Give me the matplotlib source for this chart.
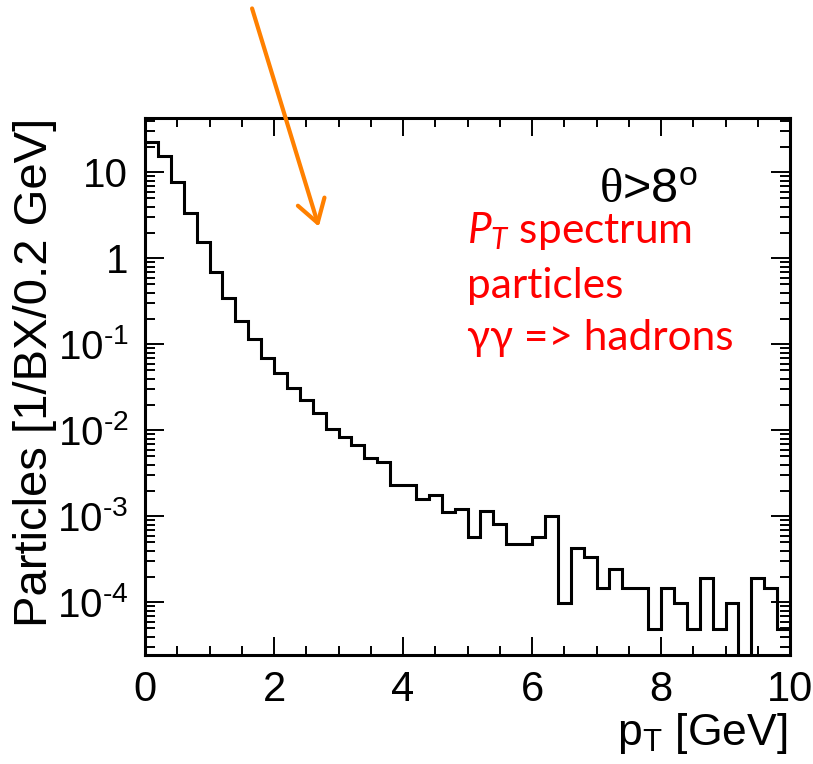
import numpy as np
import matplotlib
matplotlib.use("Agg")
import matplotlib.pyplot as plt
from matplotlib.ticker import FixedLocator, LogLocator, NullFormatter, FuncFormatter, MultipleLocator

plt.rcParams["font.family"] = ["Liberation Sans", "DejaVu Sans"]
plt.rcParams["mathtext.fontset"] = "custom"
plt.rcParams["mathtext.sf"] = "Liberation Sans"
plt.rcParams["mathtext.rm"] = "Liberation Serif"
plt.rcParams["mathtext.it"] = "Lato:italic"

# pT spectrum of particles from gamma-gamma -> hadrons, theta > 8 deg
bin_width = 0.2  # GeV
pt_min, pt_max = 0.0, 10.0
particles_per_bx = [
    22.8, 15.6, 7.8, 3.36, 1.54, 0.69, 0.344, 0.189, 0.115, 0.069,
    0.046, 0.0315, 0.0224, 0.0161, 0.0105, 0.00834, 0.00678, 0.00475, 0.00434, 0.00231,
    0.00231, 0.00158, 0.00177, 0.00113, 0.00121, 0.000582, 0.00116, 0.000818, 0.000479, 0.000479,
    0.000582, 0.00101, 9.8e-5, 0.000427, 0.000341, 0.000149, 0.000243, 0.000149, 0.000149, 4.9e-5,
    0.000149, 9.8e-5, 4.9e-5, 0.000194, 4.9e-5, 9.8e-5, 0.0, 0.000194, 0.000149, 4.9e-5,
]
x_ticks = [0, 2, 4, 6, 8, 10]
y_ticks = [1e-4, 1e-3, 1e-2, 1e-1, 1, 10]
y_range = (2.45e-5, 43.0)

edges = np.linspace(pt_min, pt_max, len(particles_per_bx) + 1)

fig = plt.figure(figsize=(8.13, 7.64), dpi=100)
ax = fig.add_axes([145 / 813, 1 - 655 / 764, (790 - 145) / 813, (655 - 118) / 764])

ax.stairs(particles_per_bx, edges, baseline=None, fill=False,
          color="black", linewidth=2.2)

ax.set_yscale("log")
ax.set_xlim(pt_min, pt_max)
ax.set_ylim(*y_range)

ax.xaxis.set_major_locator(FixedLocator(x_ticks))
ax.xaxis.set_minor_locator(MultipleLocator(0.5))
ax.yaxis.set_major_locator(FixedLocator(y_ticks))
ax.yaxis.set_minor_locator(LogLocator(base=10, subs=np.arange(2, 10)))
ax.yaxis.set_minor_formatter(NullFormatter())


def log_label(v, pos):
    e = int(round(np.log10(v)))
    if e == 0:
        return "1"
    if e == 1:
        return "10"
    return "10$^{\\mathsf{\u2010%d}}$" % (-e)


ax.yaxis.set_major_formatter(FuncFormatter(log_label))
ax.xaxis.set_major_formatter(FuncFormatter(lambda v, p: "%d" % v))

ax.tick_params(axis="both", which="both", direction="in", top=True, right=True,
               width=1.4, color="black")
ax.tick_params(axis="x", which="major", length=13, pad=10.5, labelsize=30)
ax.tick_params(axis="x", which="minor", length=6.5)
ax.tick_params(axis="y", which="major", length=14, pad=12, labelsize=29)
ax.tick_params(axis="y", which="minor", length=7)
for s in ax.spines.values():
    s.set_linewidth(2.2)

ax.set_xlabel(r"p$_{\mathsf{T}}$ [GeV]", fontsize=32, loc="right")
ax.xaxis.set_label_coords(0.995, -0.1676)
ax.xaxis.label.set_va("baseline")
ax.set_ylabel("Particles [1/BX/0.2 GeV]", fontsize=34, loc="top")
ax.yaxis.label.set_va("baseline")
ax.yaxis.set_label_coords(-0.152, 1.0)

ax.text(0.857, 0.842, r"$\mathrm{\theta}$>8$^{\mathsf{o}}$", transform=ax.transAxes,
        ha="right", va="baseline", fontsize=35, color="black")

red_lines = [r"$P_T$ spectrum", "particles", "γγ => hadrons"]
red_y = [0.767, 0.665, 0.568]
for line, yy in zip(red_lines, red_y):
    ax.text(0.499, yy, line, transform=ax.transAxes, ha="left", va="baseline",
            fontsize=30.5, color="#ff0000", family=["Lato", "DejaVu Sans"])

ax.annotate("", xy=(0.2695, 0.7976), xycoords="axes fraction",
            xytext=(0.166, 1.204), textcoords="axes fraction",
            arrowprops=dict(arrowstyle="->,head_length=1.6,head_width=1.0",
                            color="#ff8000", linewidth=3, mutation_scale=10,
                            shrinkA=0, shrinkB=0),
            annotation_clip=False)

fig.savefig("out.png", dpi=100)
